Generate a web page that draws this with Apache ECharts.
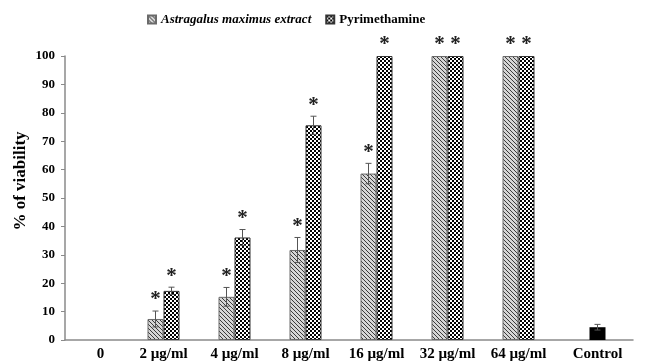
<!DOCTYPE html>
<html><head><meta charset="utf-8">
<script src="https://cdn.jsdelivr.net/npm/echarts@6/dist/echarts.min.js"></script>
<style>html,body{margin:0;padding:0;background:#fff}#c{width:648px;height:364px}</style>
</head><body><div id="c"></div>
<script>
// ---- data ----
const categories = ['0', '2 µg/ml', '4 µg/ml', '8 µg/ml', '16 µg/ml', '32 µg/ml', '64 µg/ml', 'Control'];
const extractValues = [null, 7.4, 15.2, 31.7, 58.6, 100, 100, null];
const extractErrors = [null, 2.8, 3.3, 4.4, 3.6, 0, 0, null];
const extractStars  = [0, 1, 1, 1, 1, 1, 1, 0];
const pyrValues     = [null, 17.3, 36.1, 75.6, 100, 100, 100, null];
const pyrErrors     = [null, 1.3, 2.8, 3.2, 0, 0, 0, null];
const pyrStars      = [0, 1, 1, 1, 1, 1, 1, 0];
const controlValues = [null, null, null, null, null, null, null, 4.5];
const controlErrors = [null, null, null, null, null, null, null, 1.0];
const yMin = 0, yMax = 100, yStep = 10;
const seriesNames = ['Astragalus maximus extract', 'Pyrimethamine'];

// ---- styles ----
const BAR_W = 16;
const FONT = '"Liberation Serif", "Times New Roman", serif';
function hatchPattern() {
  const c = document.createElement('canvas'); c.width = 4; c.height = 4;
  const g = c.getContext('2d');
  g.fillStyle = '#d6d6d6'; g.fillRect(0, 0, 4, 4);
  g.fillStyle = '#3c3c3c';
  for (let i = 0; i < 4; i++) g.fillRect(i, i, 1, 1);
  return c;
}
function checkerPattern() {
  const c = document.createElement('canvas'); c.width = 4; c.height = 4;
  const g = c.getContext('2d');
  g.fillStyle = '#ffffff'; g.fillRect(0, 0, 4, 4);
  g.fillStyle = '#000000';
  g.fillRect(0, 0, 2, 2); g.fillRect(2, 2, 2, 2);
  return c;
}

// rows for error bars / stars: [categoryIndex, value, error, star, slot]
const markRows = [];
function addRows(vals, errs, stars, slot) {
  vals.forEach((v, i) => {
    if (v == null) return;
    markRows.push([i, v, errs[i] || 0, stars ? stars[i] : 0, slot]);
  });
}
addRows(extractValues, extractErrors, extractStars, 0);
addRows(pyrValues, pyrErrors, pyrStars, 1);
addRows(controlValues, controlErrors, null, 2);

const chart = echarts.init(document.getElementById('c'), null, { renderer: 'canvas' });
const axisGrey = '#8a8a8a';
chart.setOption({
  animation: false,
  backgroundColor: '#fff',
  legend: {
    data: seriesNames,
    top: 8, left: 142,
    itemWidth: 8, itemHeight: 8, itemGap: 14,
    icon: 'rect',
    formatter: n => n === seriesNames[0] ? '{i|' + n + '}' : n,
    textStyle: {
      fontFamily: FONT, fontWeight: 'bold', fontSize: 13, color: '#000',
      rich: { i: { fontFamily: FONT, fontWeight: 'bold', fontStyle: 'italic', fontSize: 13, color: '#000' } }
    }
  },
  grid: { left: 65, right: 15, top: 56, bottom: 24, containLabel: false, outerBoundsMode: 'none' },
  xAxis: [{
    type: 'category', data: categories,
    axisLine: { lineStyle: { color: axisGrey, width: 1.5 } },
    axisTick: { show: false },
    axisLabel: {
      interval: 0, margin: 7, color: '#000',
      fontFamily: FONT, fontWeight: 'bold', fontSize: 15,
      formatter: (v, i) => (extractValues[i] != null || pyrValues[i] != null) ? '{s|' + v + '}' : v,
      rich: { s: { padding: [0, BAR_W, 0, 0], fontFamily: FONT, fontWeight: 'bold', fontSize: 15, color: '#000' } }
    },
    splitLine: { show: false }
  }, {
    type: 'category', data: categories, show: false, position: 'bottom'
  }],
  yAxis: {
    type: 'value', min: yMin, max: yMax, interval: yStep,
    name: '% of viability', nameLocation: 'middle', nameGap: 36, nameRotate: 90,
    nameMoveOverlap: false,
    nameTextStyle: { fontFamily: FONT, fontWeight: 'bold', fontSize: 17, color: '#000', padding: [0, 0, 0, 34] },
    axisLine: { show: true, lineStyle: { color: axisGrey, width: 1.5 } },
    axisTick: { show: true, length: 4, lineStyle: { color: axisGrey } },
    axisLabel: { margin: 10, color: '#000', fontFamily: FONT, fontWeight: 'bold', fontSize: 13 },
    splitLine: { show: false }
  },
  series: [
    {
      name: seriesNames[0], type: 'bar', data: extractValues, barWidth: BAR_W, barGap: '0%',
      itemStyle: { color: { image: hatchPattern(), repeat: 'repeat' }, borderColor: '#6a6a6a', borderWidth: 1 }
    },
    {
      name: seriesNames[1], type: 'bar', data: pyrValues, barWidth: BAR_W, barGap: '0%',
      itemStyle: { color: { image: checkerPattern(), repeat: 'repeat' }, borderColor: '#333', borderWidth: 1 }
    },
    {
      name: 'slot', type: 'bar', data: categories.map(() => null), barWidth: BAR_W, barGap: '0%'
    },
    {
      name: 'Control', type: 'bar', xAxisIndex: 1, data: controlValues, barWidth: BAR_W,
      itemStyle: { color: '#000' }
    },
    {
      type: 'custom', z: 10, silent: true, clip: false,
      data: markRows,
      renderItem: function (params, api) {
        const i = api.value(0), v = api.value(1), e = api.value(2), s = api.value(3), slot = api.value(4);
        const dx = slot === 0 ? -BAR_W : 0;
        const top = api.coord([i, v + e]);
        const bot = api.coord([i, v - e]);
        const x = top[0] + dx;
        const children = [];
        const ls = { stroke: '#555', lineWidth: 1 };
        if (e > 0) {
          children.push({ type: 'line', shape: { x1: x, y1: bot[1], x2: x, y2: top[1] }, style: ls });
          children.push({ type: 'line', shape: { x1: x - 3, y1: top[1], x2: x + 3, y2: top[1] }, style: ls });
          children.push({ type: 'line', shape: { x1: x - 3, y1: bot[1], x2: x + 3, y2: bot[1] }, style: ls });
        }
        if (s) {
          children.push({
            type: 'text',
            style: { text: '*', x: x, y: top[1] - 11, align: 'center', verticalAlign: 'middle',
              fontFamily: FONT, fontWeight: 'bold', fontSize: 21, fill: '#222' }
          });
        }
        return { type: 'group', children: children };
      }
    }
  ]
});
</script>
</body></html>
